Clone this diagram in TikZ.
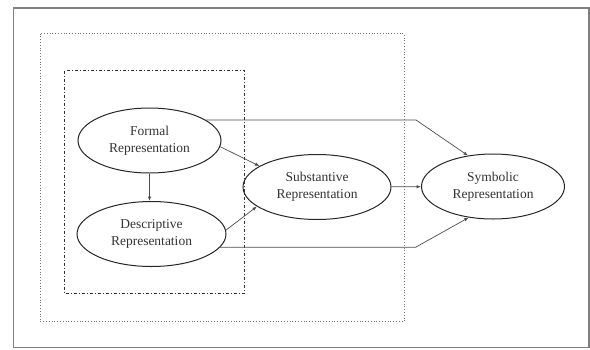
\documentclass[tikz,border=0pt]{standalone}
\usepackage{fontspec}
\setmainfont{Liberation Serif}
\usetikzlibrary{arrows.meta,shapes.geometric}
\begin{document}
\begin{tikzpicture}[x=1pt,y=-1pt,
  ell/.style={draw=black!85, line width=1pt, ellipse, minimum width=#1, minimum height=65pt, inner sep=0pt, align=center, font=\fontsize{13.5}{17}\selectfont, text=black!80},
  conn/.style={draw=black!70, line width=0.7pt, -{Latex[length=4.5pt,width=3.5pt]}},
  dotbox/.style={draw=black!55, line width=0.8pt, dotted},
  dashdotbox/.style={draw=black!80, line width=1pt, dash pattern=on 3pt off 2pt on 1pt off 2pt},
  outerframe/.style={draw=black!50, line width=1.5pt}]
\useasboundingbox (0,0) rectangle (590,349);
\draw[outerframe] (13.5,8) rectangle (589,347.5);
\draw[dotbox] (40,33.5) rectangle (404,321.5);
\draw[dashdotbox] (64.5,70.5) rectangle (244.5,293);
\node[ell=143pt] (formal) at (149.5,140.5) {Formal\\Representation};
\node[ell=149pt] (desc) at (151.5,234) {Descriptive\\Representation};
\node[ell=148pt] (subst) at (317,187) {Substantive\\Representation};
\node[ell=143pt] (symb) at (493,186.5) {Symbolic\\Representation};
\coordinate (k1) at (416,120);
\coordinate (k2) at (416,247);
\draw[conn] (formal.south) -- (formal.south |- desc.north);
\draw[conn] (formal.-5) -- (subst.160);
\draw[conn] (desc.3) -- (subst.198);
\draw[conn] (formal.20) -- (formal.20 -| k1) -- (k1) -- (symb.129);
\draw[conn] (desc.-11) -- (desc.-11 -| k2) -- (k2) -- (symb.232);
\draw[conn] (subst) -- (symb);
\end{tikzpicture}
\end{document}
